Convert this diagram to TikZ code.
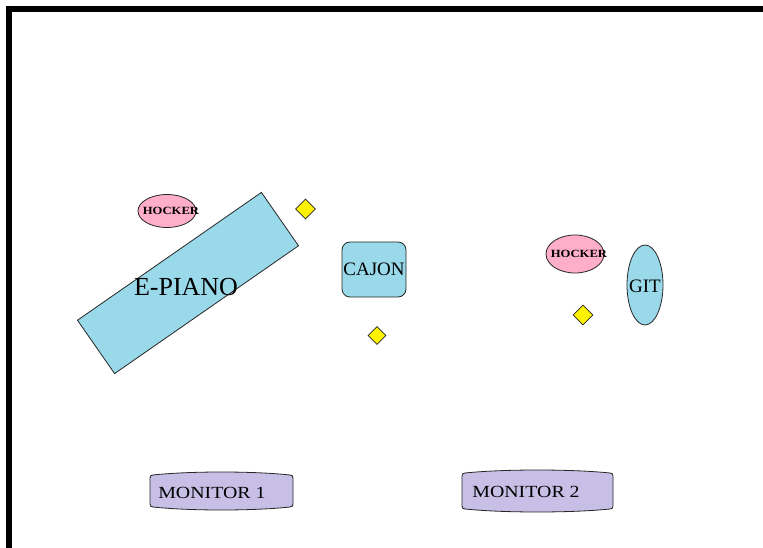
\documentclass[tikz,border=0pt]{standalone}
\usepackage{fontspec}
\setmainfont{Liberation Serif}
\newfontfamily\widefont[FakeStretch=1.17]{Liberation Serif}
\newfontfamily\hockfont[FakeStretch=1.15]{Liberation Serif}
\usetikzlibrary{shapes.geometric}
\definecolor{pblue}{HTML}{99D9EA}
\definecolor{ppink}{HTML}{FFAEC9}
\definecolor{plav}{HTML}{C8BFE7}
\definecolor{pyel}{HTML}{FFF200}
\tikzset{
  outl/.style={draw=black!85, line width=0.8pt},
  bluebox/.style={outl, fill=pblue},
  hocker/.style={outl, fill=ppink, ellipse, inner sep=0pt},
  mark/.style={}, 
  yeldia/.style={outl, fill=pyel, diamond, inner sep=0pt, aspect=1},
  monbox/.style={outl, fill=plav},
  lbl/.style={inner sep=0pt, text=black},
}
\begin{document}
\begin{tikzpicture}[x=1pt,y=1pt]
\useasboundingbox (0,0) rectangle (763,547);
\fill[white] (0,0) rectangle (763,547);
% frame
\draw[line width=6pt] (9,-20) -- (9,538) -- (790,538);
% E-piano
\node[bluebox, rectangle, minimum width=224, minimum height=65, rotate=34.8] (piano) at (188,264) {};
\node[lbl, font=\fontsize{26}{26}\selectfont] (pianolbl) at (186,260) {E-PIANO};
% hocker 1
\node[hocker, minimum width=58, minimum height=33] (hock1) at (167,336) {};
\node[lbl, font=\hockfont\bfseries\fontsize{11}{11}\selectfont] (hock1lbl) at (171,336) {HOCKER};
% diamonds
\node[yeldia, minimum width=20, minimum height=20] (d1) at (305.5,338) {};
\node[yeldia, minimum width=18, minimum height=18] (d2) at (377,211.5) {};
\node[yeldia, minimum width=20, minimum height=20] (d3) at (583,232) {};
% cajon
\node[bluebox, rectangle, rounded corners=8pt, minimum width=64, minimum height=55] (cajon) at (374,277.5) {};
\node[lbl, font=\fontsize{19}{19}\selectfont] (cajonlbl) at (374,278) {CAJON};
% hocker 2
\node[hocker, minimum width=58, minimum height=38] (hock2) at (575,293) {};
\node[lbl, font=\hockfont\bfseries\fontsize{11}{11}\selectfont] (hock2lbl) at (579,293) {HOCKER};
% git
\node[bluebox, ellipse, inner sep=0pt, minimum width=36, minimum height=80] (git) at (645,262) {};
\node[lbl, font=\fontsize{19}{19}\selectfont] (gitlbl) at (645,261) {GIT};
% monitor 1
\draw[monbox] (150,43) -- (150,69) .. controls (150,71) and (151,72) .. (153,72)
  .. controls (190,76) and (253,76) .. (290,72)
  .. controls (292,72) and (293,71) .. (293,69) -- (293,43)
  .. controls (293,41) and (292,40) .. (290,40)
  .. controls (253,36) and (190,36) .. (153,40)
  .. controls (151,40) and (150,41) .. (150,43) -- cycle;
\node[lbl, font=\widefont\fontsize{17}{17}\selectfont] (mon1) at (212,54.5) {MONITOR 1};
% monitor 2
\draw[monbox] (462,41) -- (462,71) .. controls (462,73) and (463,74) .. (465,74)
  .. controls (504,78) and (571,78) .. (610,74)
  .. controls (612,74) and (613,73) .. (613,71) -- (613,41)
  .. controls (613,39) and (612,38) .. (610,38)
  .. controls (571,34) and (504,34) .. (465,38)
  .. controls (463,38) and (462,39) .. (462,41) -- cycle;
\node[lbl, font=\widefont\fontsize{17}{17}\selectfont] (mon2) at (526,55.5) {MONITOR 2};
\end{tikzpicture}
\end{document}
